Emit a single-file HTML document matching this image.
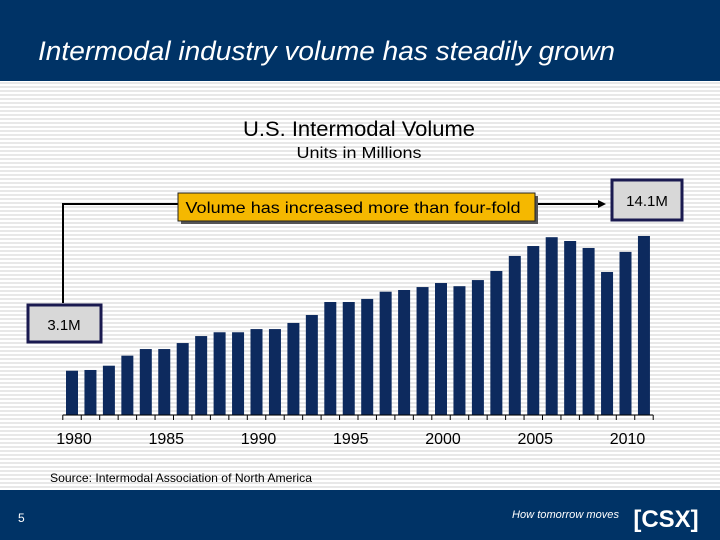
<!DOCTYPE html>
<html><head><meta charset="utf-8"><style>
body{margin:0;width:720px;height:540px;overflow:hidden;font-family:"Liberation Sans",sans-serif;}
#bg{position:absolute;left:0;top:0;width:720px;height:540px;background:repeating-linear-gradient(#fff 0,#fff 2px,#e8e8e8 2px,#e8e8e8 4px);}
.hdr{position:absolute;left:0;top:0;width:720px;height:81px;background:#003366;}
.ftr{position:absolute;left:0;top:490px;width:720px;height:50px;background:#003366;}
</style></head><body>
<div id="bg"></div>
<div class="hdr"></div>
<div class="ftr"></div>
<svg id="chart" width="720" height="540" style="position:absolute;left:0;top:0">
<text x="38" y="60" fill="#fff" font-size="27" font-style="italic" textLength="577" lengthAdjust="spacingAndGlyphs">Intermodal industry volume has steadily grown</text>
<text x="359" y="136" text-anchor="middle" font-size="21" textLength="232" lengthAdjust="spacingAndGlyphs">U.S. Intermodal Volume</text>
<text x="359" y="158" text-anchor="middle" font-size="16" textLength="125" lengthAdjust="spacingAndGlyphs">Units in Millions</text>
<g id="bars"></g>
<g id="axis"></g>
<polyline points="63,303 63,204 178,204" fill="none" stroke="#000" stroke-width="2"/>
<line x1="535" y1="204" x2="598" y2="204" stroke="#000" stroke-width="2"/>
<polygon points="598,200 606,204 598,208" fill="#000"/>
<rect x="181" y="196" width="357" height="28" fill="#555"/>
<rect x="178" y="193" width="357" height="28" fill="#f5b800" stroke="#222"/>
<text x="353" y="213" text-anchor="middle" font-size="16" textLength="335" lengthAdjust="spacingAndGlyphs">Volume has increased more than four-fold</text>
<rect x="612" y="180" width="70" height="40" fill="#d8d8d8" stroke="#1a1a50" stroke-width="3"/>
<text x="647" y="206" text-anchor="middle" font-size="15">14.1M</text>
<rect x="28" y="305" width="73" height="37" fill="#d8d8d8" stroke="#1a1a50" stroke-width="3"/>
<text x="64" y="330" text-anchor="middle" font-size="15">3.1M</text>
<text x="50" y="482" font-size="12" textLength="262" lengthAdjust="spacingAndGlyphs">Source:  Intermodal Association of North America</text>
<text x="18" y="522" fill="#fff" font-size="12">5</text>
<text x="619" y="518" fill="#fff" font-size="11" font-style="italic" text-anchor="end" textLength="107" lengthAdjust="spacingAndGlyphs">How tomorrow moves</text>
<text x="666" y="527" fill="#fff" font-size="24" font-weight="bold" text-anchor="middle">[CSX]</text>
</svg>
<script>
const years=[1980,1981,1982,1983,1984,1985,1986,1987,1988,1989,1990,1991,1992,1993,1994,1995,1996,1997,1998,1999,2000,2001,2002,2003,2004,2005,2006,2007,2008,2009,2010,2011];
const volumes=[3.1,3.16,3.51,4.33,4.87,4.87,5.36,5.93,6.24,6.24,6.5,6.5,7.0,7.65,8.71,8.71,8.96,9.55,9.69,9.93,10.26,10.0,10.5,11.24,12.47,13.28,14.0,13.69,13.12,11.16,12.8,14.1];
const tickYears=[1980,1985,1990,1995,2000,2005,2010];
const NS='http://www.w3.org/2000/svg';
const base=415;
function xScale(yr){return 72+(yr-1980)*18.45;}
function yScale(v){return base-(6.3+12.25*v);}
const bars=document.getElementById('bars'),axis=document.getElementById('axis');
years.forEach((yr,i)=>{
 const r=document.createElementNS(NS,'rect');
 const y=yScale(volumes[i]);
 r.setAttribute('x',xScale(yr)-6);r.setAttribute('y',y);
 r.setAttribute('width',12);r.setAttribute('height',base-y);
 r.setAttribute('fill','#0d2a5e');
 
 
 bars.appendChild(r);
});
const al=document.createElementNS(NS,'line');
al.setAttribute('x1',xScale(1980)-9.2);al.setAttribute('x2',xScale(2011)+9.2);
al.setAttribute('y1',base);al.setAttribute('y2',base);al.setAttribute('stroke','#000');


axis.appendChild(al);
for(let k=0;k<=years.length;k++){
 const t=document.createElementNS(NS,'line');
 const x=xScale(1980)-9.2+k*18.45;
 t.setAttribute('x1',x);t.setAttribute('x2',x);t.setAttribute('y1',base);t.setAttribute('y2',base+5);t.setAttribute('stroke','#000');
 
 
 axis.appendChild(t);
}
tickYears.forEach(yr=>{
 const t=document.createElementNS(NS,'text');
 t.setAttribute('x',xScale(yr)+2);t.setAttribute('y',444);t.setAttribute('text-anchor','middle');t.setAttribute('font-size','16');
 t.textContent=yr;
 
 
 axis.appendChild(t);
});
</script>
</body></html>
